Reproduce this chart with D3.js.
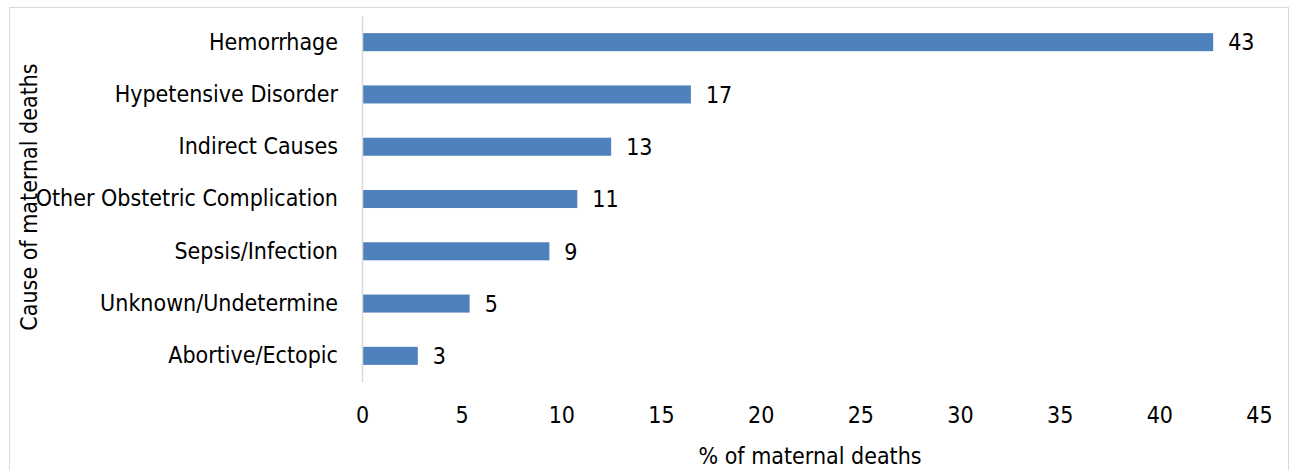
<!DOCTYPE html>
<html>
<head>
<meta charset="utf-8">
<script src="https://cdn.jsdelivr.net/npm/d3@7"></script>
<style>
  body { margin: 0; background: #fff; }
  svg text { font-family: "DejaVu Sans Condensed", "DejaVu Sans", sans-serif; fill: #000; }
</style>
</head>
<body>
<svg id="chart" width="1292" height="470"></svg>
<script>
// Data
const causes = ['Hemorrhage', 'Hypetensive Disorder', 'Indirect Causes', 'Other Obstetric Complication',
  'Sepsis/Infection', 'Unknown/Undetermine', 'Abortive/Ectopic'];
const percents = [42.7, 16.5, 12.5, 10.8, 9.4, 5.4, 2.8];
const xTicks = [0, 5, 10, 15, 20, 25, 30, 35, 40, 45];

const svg = d3.select('#chart');
const fontSize = 23;

// chart frame
svg.append('rect')
  .attr('x', 9.5).attr('y', 7.5)
  .attr('width', 1279).attr('height', 480)
  .attr('fill', 'none')
  .attr('stroke', '#d9d9d9');

const x = d3.scaleLinear().domain([0, 45]).range([362, 1259]);
const y = d3.scaleBand().domain(causes).range([16, 382]).paddingInner(0.655).paddingOuter(0.3275);

// bars
svg.append('g')
  .selectAll('rect')
  .data(causes)
  .enter().append('rect')
  .attr('x', x(0))
  .attr('y', d => y(d))
  .attr('width', (d, i) => x(percents[i]) - x(0))
  .attr('height', y.bandwidth())
  .attr('fill', '#4f81bd');

// value labels
svg.append('g')
  .selectAll('text')
  .data(causes)
  .enter().append('text')
  .attr('x', (d, i) => x(percents[i]) + 15)
  .attr('y', d => y(d) + y.bandwidth() / 2)
  .attr('dy', '0.36em')
  .style('font-size', fontSize + 'px')
  .text((d, i) => Math.round(percents[i]));

// y axis
const yAxis = svg.append('g')
  .attr('transform', 'translate(' + x(0) + ',0)')
  .call(d3.axisLeft(y).tickSize(0).tickPadding(24));
yAxis.select('.domain').attr('stroke', '#d9d9d9').attr('stroke-width', 1.5);
yAxis.selectAll('text').style('font-size', fontSize + 'px').attr('fill', '#000');

// x axis (labels only)
const xAxis = svg.append('g')
  .attr('transform', 'translate(0,' + 400 + ')')
  .call(d3.axisBottom(x).tickValues(xTicks).tickSize(0).tickPadding(7));
xAxis.select('.domain').remove();
xAxis.selectAll('text').style('font-size', fontSize + 'px').attr('fill', '#000');

// axis titles
svg.append('text')
  .attr('x', 810).attr('y', 464)
  .attr('text-anchor', 'middle')
  .style('font-size', fontSize + 'px')
  .text('% of maternal deaths');

svg.append('text')
  .attr('transform', 'translate(37,197) rotate(-90)')
  .attr('text-anchor', 'middle')
  .style('font-size', fontSize + 'px')
  .text('Cause of maternal deaths');
</script>
</body>
</html>
